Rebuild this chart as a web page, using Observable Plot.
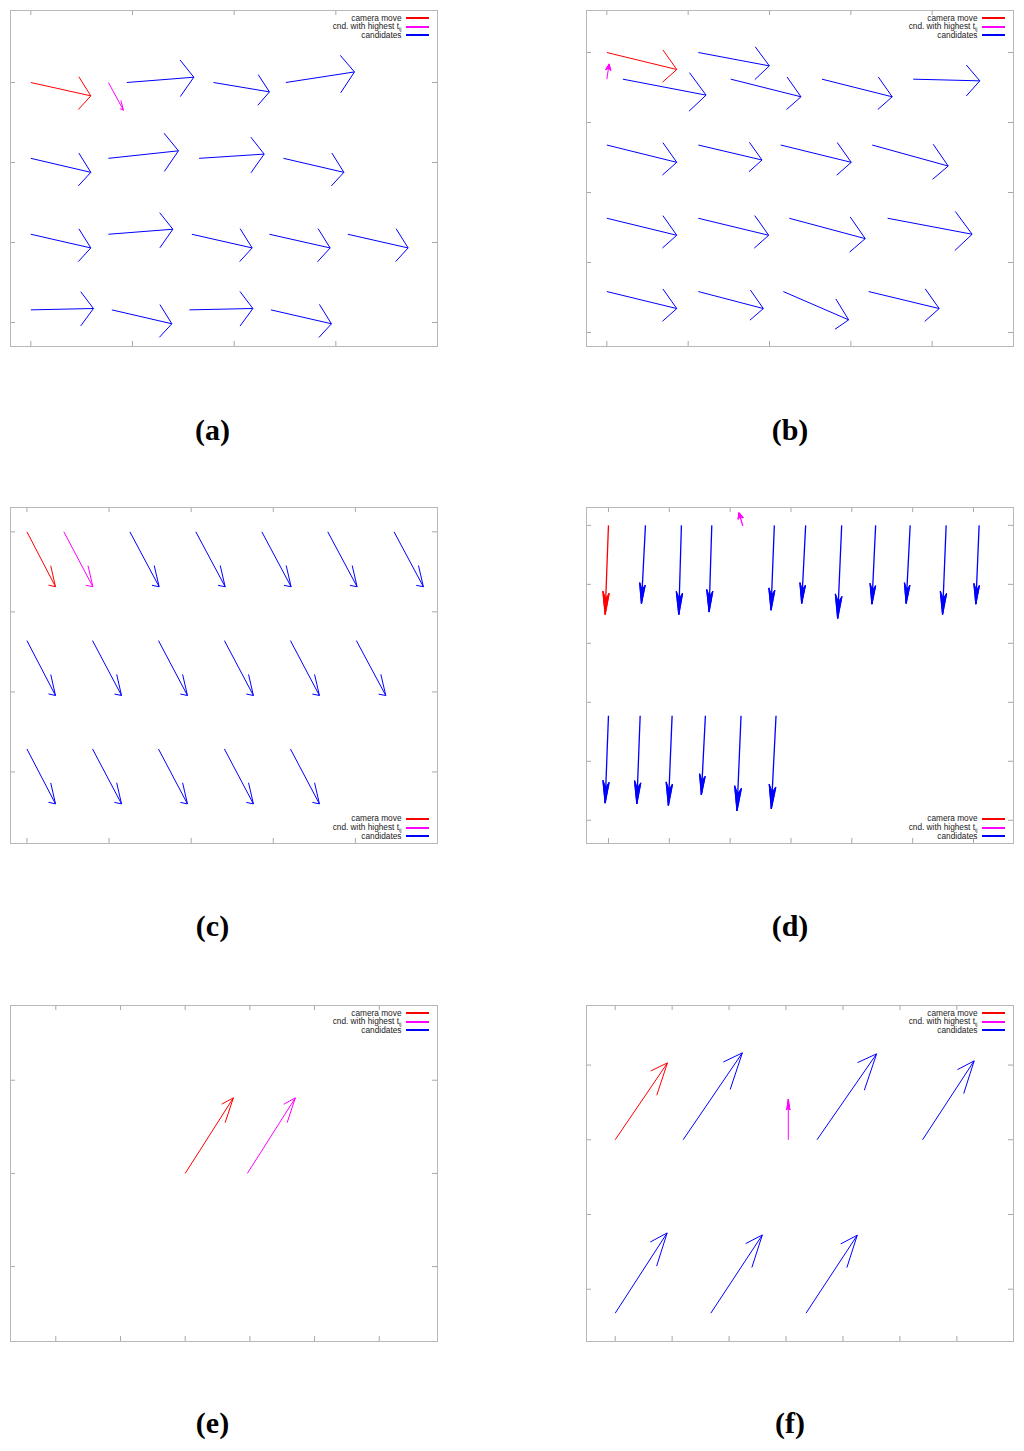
<!DOCTYPE html>
<html>
<head>
<meta charset="utf-8">
<script src="https://cdn.jsdelivr.net/npm/d3@7"></script>
<script src="https://cdn.jsdelivr.net/npm/@observablehq/plot@0.6"></script>
<style>
  body { margin: 0; background: #fff; }
  #fig { position: relative; width: 1024px; height: 1451px; background: #fff; overflow: hidden; }
  #fig svg { position: absolute; }
  .lg { position: absolute; font-family: "Liberation Sans", Arial, sans-serif; font-size: 8.3px; line-height: 10px; color: #222; white-space: nowrap; text-align: right; }
  .lg sub { font-size: 5.5px; vertical-align: -1.5px; line-height: 0; }
  .lgline { position: absolute; height: 1.5px; }
  .plabel { position: absolute; width: 120px; text-align: center; font-family: "Liberation Serif", "Times New Roman", serif; font-weight: bold; font-size: 30px; line-height: 30px; color: #000; }
</style>
</head>
<body>
<div id="fig"></div>
<script>
// ---------------- data ----------------
// each arrow: [kind, x start, y start, x end, y end]
const kinds = ["camera", "best", "cand"];
const kindColors = ["#ff0000", "#ff00ff", "#0000ff"];
const legendLabels = ["camera move", "cnd. with highest t", "candidates"];
const panelLetters = ["(a)", "(b)", "(c)", "(d)", "(e)", "(f)"];

const arrowsA = [
  ["camera", 0.000, 3.000, 0.590, 2.833],
  ["best",   0.763, 3.000, 0.911, 2.654],
  ["cand",   0.944, 3.000, 1.603, 3.066],
  ["cand",   1.796, 3.000, 2.347, 2.883],
  ["cand",   2.508, 3.000, 3.183, 3.132],
  ["cand",   0.000, 2.052, 0.590, 1.877],
  ["cand",   0.763, 2.052, 1.452, 2.146],
  ["cand",   1.655, 2.052, 2.295, 2.105],
  ["cand",   2.485, 2.052, 3.079, 1.877],
  ["cand",   0.000, 1.103, 0.590, 0.932],
  ["cand",   0.763, 1.103, 1.397, 1.166],
  ["cand",   1.584, 1.103, 2.177, 0.932],
  ["cand",   2.347, 1.103, 2.944, 0.932],
  ["cand",   3.118, 1.103, 3.711, 0.932],
  ["cand",   0.000, 0.158, 0.616, 0.175],
  ["cand",   0.797, 0.158, 1.387, -0.016],
  ["cand",   1.560, 0.158, 2.184, 0.175],
  ["cand",   2.361, 0.158, 2.957, -0.016]
];
const arrowsB = [
  ["camera", 0.000, 4.000, 0.860, 3.757],
  ["cand",   1.125, 4.000, 1.998, 3.809],
  ["best",   0.000, 3.619, 0.028, 3.833],
  ["cand",   0.197, 3.619, 1.220, 3.391],
  ["cand",   1.523, 3.619, 2.387, 3.367],
  ["cand",   2.645, 3.619, 3.509, 3.367],
  ["cand",   3.767, 3.619, 4.586, 3.595],
  ["cand",   0.000, 2.678, 0.860, 2.431],
  ["cand",   1.125, 2.678, 1.908, 2.464],
  ["cand",   2.138, 2.678, 3.005, 2.431],
  ["cand",   3.263, 2.678, 4.197, 2.378],
  ["cand",   0.000, 1.632, 0.860, 1.389],
  ["cand",   1.125, 1.632, 1.990, 1.389],
  ["cand",   2.243, 1.632, 3.177, 1.341],
  ["cand",   3.452, 1.632, 4.491, 1.404],
  ["cand",   0.000, 0.585, 0.860, 0.342],
  ["cand",   1.125, 0.585, 1.924, 0.342],
  ["cand",   2.170, 0.585, 2.973, 0.181],
  ["cand",   3.219, 0.585, 4.086, 0.342]
];
const arrowsC = [
  ["camera", 0.000, 3.000, 0.348, 2.314],
  ["best",   0.450, 3.000, 0.803, 2.314],
  ["cand",   1.254, 3.000, 1.610, 2.314],
  ["cand",   2.057, 3.000, 2.414, 2.314],
  ["cand",   2.861, 3.000, 3.217, 2.314],
  ["cand",   3.664, 3.000, 4.021, 2.314],
  ["cand",   4.471, 3.000, 4.828, 2.314],
  ["cand",   0.000, 1.641, 0.348, 0.955],
  ["cand",   0.799, 1.641, 1.152, 0.955],
  ["cand",   1.602, 1.641, 1.955, 0.955],
  ["cand",   2.405, 1.641, 2.758, 0.955],
  ["cand",   3.209, 1.641, 3.562, 0.955],
  ["cand",   4.012, 1.641, 4.370, 0.955],
  ["cand",   0.000, 0.287, 0.348, -0.399],
  ["cand",   0.799, 0.287, 1.152, -0.399],
  ["cand",   1.602, 0.287, 1.955, -0.399],
  ["cand",   2.405, 0.287, 2.758, -0.399],
  ["cand",   3.209, 0.287, 3.562, -0.399]
];
const arrowsD = [
  ["camera", 0.000, 5.000, -0.054, 3.492],
  ["best",   2.207, 4.992, 2.146, 5.212],
  ["cand",   0.608, 5.000, 0.542, 3.679],
  ["cand",   1.199, 5.000, 1.156, 3.492],
  ["cand",   1.698, 5.000, 1.654, 3.536],
  ["cand",   2.726, 5.000, 2.672, 3.565],
  ["cand",   3.241, 5.000, 3.176, 3.679],
  ["cand",   3.833, 5.000, 3.767, 3.425],
  ["cand",   4.391, 5.000, 4.330, 3.667],
  ["cand",   4.959, 5.000, 4.893, 3.679],
  ["cand",   5.550, 5.000, 5.491, 3.492],
  ["cand",   6.092, 5.000, 6.038, 3.667],
  ["cand",   0.000, 1.772, -0.054, 0.294],
  ["cand",   0.521, 1.772, 0.466, 0.283],
  ["cand",   1.046, 1.772, 0.985, 0.254],
  ["cand",   1.593, 1.772, 1.527, 0.435],
  ["cand",   2.179, 1.772, 2.113, 0.164],
  ["cand",   2.754, 1.772, 2.677, 0.198]
];
const arrowsE = [
  ["camera", 2.000, 1.000, 2.745, 1.811],
  ["best",   2.961, 1.000, 3.703, 1.811]
];
const arrowsF = [
  ["camera", 0.000, 2.000, 0.918, 3.029],
  ["cand",   1.193, 2.000, 2.233, 3.163],
  ["best",   3.040, 2.000, 3.040, 2.540],
  ["cand",   3.544, 2.000, 4.591, 3.150],
  ["cand",   5.398, 2.000, 6.304, 3.056],
  ["cand",   0.000, -0.321, 0.912, 0.753],
  ["cand",   1.679, -0.321, 2.584, 0.726],
  ["cand",   3.351, -0.321, 4.251, 0.722]
];

const xTicksA = [0, 1, 2, 3],          yTicksA = [0, 1, 2, 3];
const xTicksB = [0, 1, 2, 3, 4],       yTicksB = [0, 1, 2, 3, 4];
const xTicksC = [0, 1, 2, 3, 4],       yTicksC = [0, 1, 2, 3];
const xTicksD = [0, 1, 2, 3, 4, 5, 6], yTicksD = [0, 1, 2, 3, 4, 5];
const xTicksE = [0, 1, 2, 3, 4, 5],    yTicksE = [0, 1, 2];
const xTicksF = [0, 1, 2, 3, 4, 5, 6], yTicksF = [0, 1, 2, 3];

// ---------------- drawing ----------------
const fig = document.getElementById("fig");
const W = 427, H = 336;
const frameColor = "#b8b8b8", tickColor = "#a8a8a8", tickLen = 5;

// arrow heads derived from each arrow (head shape stretched as in the source plots)
function heads(arrows, sx, sy, head) {
  const barbs = [], polys = [];
  arrows.forEach(([kind, x1, y1, x2, y2], id) => {
    const dxs = (x1 - x2) * sx, dys = (y1 - y2) * sy;      // screen vector tip -> start
    const slen = Math.hypot(dxs, dys);
    let k = head.k, L, ang = head.angle;
    if (slen < 25) { k = 1; L = 6.5; ang = 24; }             // tiny arrows keep a readable head
    const bx = dxs * k, by = dys;
    const len = Math.hypot(bx, by);
    if (L === undefined) L = head.ratio * len;
    const ux = bx / len, uy = by / len;
    const a = ang * Math.PI / 180;
    const pts = [];
    for (const s of [-1, 1]) {
      const c = Math.cos(s * a), sn = Math.sin(s * a);
      const hx = L * (ux * c - uy * sn), hy = L * (ux * sn + uy * c);
      const p = {kind, x1: x2, y1: y2, x2: x2 + hx / k / sx, y2: y2 + hy / sy};
      barbs.push(p);
      pts.push(p);
    }
    const steep = Math.abs(dxs) < 0.3 * Math.abs(dys);
    if (steep) {
      const nL = 0.72 * L * Math.cos(a);
      const notch = {x: x2 + nL * ux / k / sx, y: y2 + nL * uy / sy};
      [{x: x2, y: y2}, {x: pts[0].x2, y: pts[0].y2}, notch, {x: pts[1].x2, y: pts[1].y2}, {x: x2, y: y2}]
        .forEach(p => polys.push({id, kind, x: p.x, y: p.y}));
    }
  });
  return {barbs, polys};
}

function panel(cfg) {
  const {left, top, arrows, xDomain, yDomain, xTicks, yTicks, head, legendAt, letter, labelX, labelTop} = cfg;
  const sx = W / (xDomain[1] - xDomain[0]), sy = H / (yDomain[1] - yDomain[0]);
  const shafts = arrows.map(([kind, x1, y1, x2, y2]) => ({kind, x1, y1, x2, y2}));
  const {barbs, polys} = heads(arrows, sx, sy, head);
  const sw = head.sw || 1;
  const svg = Plot.plot({
    width: W + 2, height: H + 2, margin: 1,
    x: {domain: xDomain, axis: null},
    y: {domain: yDomain, axis: null},
    color: {domain: kinds, range: kindColors},
    marks: [
      Plot.tickX(xTicks, {x: d => d, stroke: tickColor, insetTop: H - tickLen}),
      Plot.tickX(xTicks, {x: d => d, stroke: tickColor, insetBottom: H - tickLen}),
      Plot.tickY(yTicks, {y: d => d, stroke: tickColor, insetRight: W - tickLen}),
      Plot.tickY(yTicks, {y: d => d, stroke: tickColor, insetLeft: W - tickLen}),
      Plot.frame({stroke: frameColor}),
      Plot.link(shafts, {x1: "x1", y1: "y1", x2: "x2", y2: "y2", stroke: "kind", strokeWidth: sw}),
      Plot.link(barbs, {x1: "x1", y1: "y1", x2: "x2", y2: "y2", stroke: "kind", strokeWidth: sw}),
      Plot.line(polys, {x: "x", y: "y", z: "id", stroke: "kind", fill: "kind", strokeWidth: 1, strokeLinejoin: "miter"})
    ]
  });
  svg.style.left = (left - 1) + "px";
  svg.style.top = (top - 1) + "px";
  fig.appendChild(svg);

  // legend
  const right = left + W;
  const ys = legendAt === "top" ? [top + 7.7, top + 16.4, top + 24.7] : [top + H - 24.7, top + H - 16, top + H - 7.3];
  legendLabels.forEach((lab, i) => {
    const t = document.createElement("div");
    t.className = "lg";
    t.style.right = (1024 - (right - 35.8)) + "px";
    t.style.top = (ys[i] - 5.5) + "px";
    t.textContent = lab;
    if (i === 1) { const s = document.createElement("sub"); s.textContent = "ij"; t.appendChild(s); }
    fig.appendChild(t);
    const l = document.createElement("div");
    l.className = "lgline";
    l.style.left = Math.round(right - 31.3) + "px";
    l.style.width = "23px";
    l.style.top = Math.round(ys[i] - 0.75) + "px";
    l.style.background = kindColors[i];
    fig.appendChild(l);
  });

  const lb = document.createElement("div");
  lb.className = "plabel";
  lb.textContent = letter;
  lb.style.left = (labelX - 60) + "px";
  lb.style.top = labelTop + "px";
  fig.appendChild(lb);
}

panel({left: 10.3, top: 10.3, arrows: arrowsA, xDomain: [-0.2, 4.0], yDomain: [-0.3, 3.9],
  xTicks: xTicksA, yTicks: yTicksA, head: {k: 3.9, ratio: 0.215, angle: 19}, legendAt: "top",
  letter: panelLetters[0], labelX: 212.5, labelTop: 415});
panel({left: 586.3, top: 10.3, arrows: arrowsB, xDomain: [-0.25, 5.0], yDomain: [-0.2, 4.6],
  xTicks: xTicksB, yTicks: yTicksB, head: {k: 4.0, ratio: 0.21, angle: 16}, legendAt: "top",
  letter: panelLetters[1], labelX: 790, labelTop: 415});
panel({left: 10.3, top: 507.3, arrows: arrowsC, xDomain: [-0.2, 5.0], yDomain: [-0.894, 3.304],
  xTicks: xTicksC, yTicks: yTicksC, head: {k: 4.07, ratio: 0.222, angle: 22}, legendAt: "bottom",
  letter: panelLetters[2], labelX: 212.5, labelTop: 911});
panel({left: 586.3, top: 507.3, arrows: arrowsD, xDomain: [-0.361, 6.657], yDomain: [-0.394, 5.303],
  xTicks: xTicksD, yTicks: yTicksD, head: {k: 3, ratio: 0.27, angle: 23, sw: 1.3}, legendAt: "bottom",
  letter: panelLetters[3], labelX: 790, labelTop: 911});
panel({left: 10.3, top: 1005.3, arrows: arrowsE, xDomain: [-0.7, 5.9], yDomain: [-0.804, 2.802],
  xTicks: xTicksE, yTicks: yTicksE, head: {k: 2.96, ratio: 0.216, angle: 17.5}, legendAt: "top",
  letter: panelLetters[4], labelX: 212.5, labelTop: 1408});
panel({left: 586.3, top: 1005.3, arrows: arrowsF, xDomain: [-0.504, 6.995], yDomain: [-0.7, 3.797],
  xTicks: xTicksF, yTicks: yTicksF, head: {k: 2.42, ratio: 0.28, angle: 20}, legendAt: "top",
  letter: panelLetters[5], labelX: 790, labelTop: 1408});
</script>
</body>
</html>
